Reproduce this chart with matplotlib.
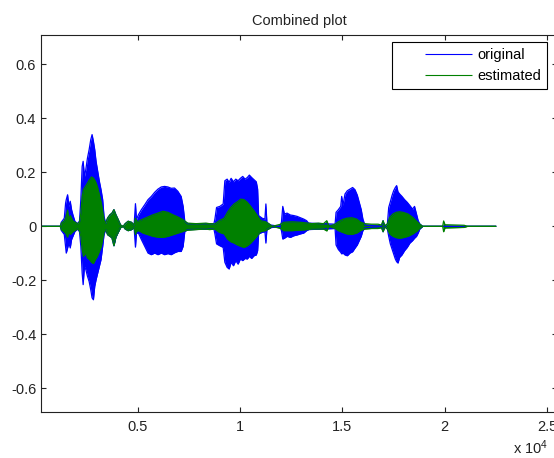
import matplotlib
matplotlib.use('Agg')
import matplotlib.pyplot as plt
from matplotlib.lines import Line2D

plt.rcParams['font.family'] = ['Liberation Sans', 'DejaVu Sans']
plt.rcParams['mathtext.default'] = 'regular'

# envelope of the original signal (sample index, upper, lower)
orig_x = [1, 1214, 1262, 1408, 1473, 1505, 1570, 1634, 1699, 1764, 1829, 1926, 2055, 2152,
          2217, 2282, 2330, 2395, 2460, 2541, 2622, 2702, 2767, 2832, 2897, 2961, 3042, 3123,
          3204, 3285, 3350, 3430, 3527, 3641, 3738, 3835, 3932, 4045, 4159, 4288, 4385, 4531,
          4693, 4822, 4887, 4935, 5032, 5178, 5340, 5502, 5663, 5825, 5987, 6149, 6311, 6472,
          6634, 6796, 6958, 7120, 7217, 7298, 7443, 8722, 8770, 8851, 9013, 9175, 9256, 9369,
          9466, 9563, 9677, 9790, 9903, 10016, 10130, 10243, 10356, 10453, 10566, 10680, 10793,
          10858, 10906, 11084, 11214, 11262, 11311, 11489, 11942, 12023, 12087, 12168, 12298,
          12460, 12621, 12783, 12945, 13107, 13252, 13349, 14644, 14692, 14806, 14919, 14967,
          15032, 15129, 15242, 15372, 15501, 15615, 15728, 15825, 15922, 16003, 16100, 16909,
          16990, 17070, 17200, 17265, 17345, 17426, 17507, 17588, 17653, 17718, 17799, 17912,
          18041, 18171, 18300, 18430, 18527, 18624, 18705, 18785, 18931, 22491]
orig_hi = [0, 0, 0.015, 0.03, 0.086, 0.099, 0.117, 0.074, 0.093, 0.062, 0.043, 0.019, 0.01, 0.02,
           0.099, 0.222, 0.241, 0.185, 0.21, 0.253, 0.284, 0.321, 0.34, 0.315, 0.284, 0.241, 0.204, 0.167,
           0.136, 0.099, 0.037, 0.012, 0.031, 0.043, 0.049, 0.062, 0.043, 0.025, 0.005, 0, 0.01, 0.019,
           0.015, 0.005, 0.084, 0.025, 0.043, 0.062, 0.08, 0.099, 0.111, 0.126, 0.138, 0.146, 0.148, 0.146,
           0.141, 0.142, 0.13, 0.111, 0.074, 0.019, 0.01, 0.01, 0.027, 0.07, 0.074, 0.083, 0.169, 0.175,
           0.163, 0.178, 0.165, 0.175, 0.169, 0.178, 0.185, 0.175, 0.181, 0.19, 0.181, 0.173, 0.165,
           0.138, 0.04, 0.03, 0.027, 0.083, 0.015, 0.005, 0, 0.015, 0.074, 0.046, 0.049,
           0.042, 0.04, 0.037, 0.032, 0.027, 0.021, 0.012, 0.008, 0.052, 0.062, 0.074, 0.111,
           0.079, 0.12, 0.132, 0.138, 0.144, 0.136, 0.116, 0.089, 0.062, 0.027, 0.005, 0,
           0.021, 0, 0.009, 0.07, 0.091, 0.114, 0.132, 0.144, 0.151, 0.128, 0.12, 0.111,
           0.099, 0.089, 0.077, 0.064, 0.074, 0.046, 0.021, 0.009, 0, 0]
orig_lo = [0, 0, -0.015, -0.03, -0.074, -0.099, -0.08, -0.062, -0.08, -0.049, -0.037, -0.019, -0.01, -0.02,
           -0.074, -0.173, -0.216, -0.148, -0.16, -0.185, -0.204, -0.235, -0.265, -0.272, -0.222, -0.198, -0.173, -0.148,
           -0.123, -0.074, -0.031, -0.012, -0.031, -0.037, -0.043, -0.072, -0.04, -0.022, -0.005, 0, -0.01, -0.016,
           -0.012, -0.005, -0.077, -0.025, -0.025, -0.049, -0.074, -0.099, -0.105, -0.099, -0.105, -0.099, -0.105, -0.101,
           -0.105, -0.098, -0.093, -0.093, -0.074, -0.019, -0.012, -0.01, -0.028, -0.065, -0.072, -0.078, -0.133, -0.152,
           -0.158, -0.133, -0.146, -0.127, -0.14, -0.121, -0.127, -0.119, -0.121, -0.111, -0.119, -0.109, -0.106,
           -0.09, -0.028, -0.022, -0.02, -0.062, -0.012, -0.005, 0, -0.016, -0.047, -0.044, -0.037,
           -0.041, -0.035, -0.032, -0.028, -0.025, -0.016, -0.012, -0.008, -0.069, -0.086, -0.096, -0.102,
           -0.099, -0.106, -0.109, -0.099, -0.094, -0.081, -0.069, -0.053, -0.037, -0.016, -0.006, 0,
           -0.02, 0, -0.01, -0.037, -0.065, -0.084, -0.102, -0.121, -0.131, -0.136, -0.115, -0.106,
           -0.09, -0.078, -0.062, -0.053, -0.044, -0.037, -0.025, -0.01, 0, 0]

# envelope of the estimated signal
est_x = [1, 1214, 1262, 1400, 1473, 1570, 1634, 1699, 1829, 2055, 2152,
         2217, 2282, 2346, 2444, 2541, 2638, 2735, 2832, 2929, 3026, 3123, 3220, 3301, 3366, 3430,
         3527, 3641, 3738, 3835, 3932, 4045, 4159, 4288, 4385, 4531, 4693, 4822, 4887, 4935,
         5032, 5259, 5502, 5744, 5987, 6230, 6472, 6715, 6958, 7200, 7443, 7848, 8333, 8500,
         8770, 8981, 9224, 9385, 9547, 9709, 9871, 10032, 10194, 10356, 10518, 10680, 10842, 11003,
         11246, 11440, 11570, 11990, 12136, 12540, 12945, 13317, 13511, 13834, 14077, 14239, 14352,
         14644, 14806, 15000, 15210, 15453, 15696, 15906, 16100, 16423, 16747, 16909, 16990, 17070,
         17200, 17313, 17475, 17637, 17799, 17961, 18203, 18446, 18656, 18785, 18931, 19902, 19950,
         20016, 20954, 21116, 22491]
est_hi = [0, 0, 0.012, 0.02, 0.03, 0.06, 0.025, 0.04, 0.02, 0.01, 0.015,
          0.049, 0.111, 0.136, 0.148, 0.16, 0.173, 0.183, 0.179, 0.167, 0.148, 0.117, 0.086, 0.049, 0.019, 0.012,
          0.031, 0.043, 0.049, 0.062, 0.043, 0.025, 0.005, 0, 0.01, 0.019, 0.015, 0.005, 0.03, 0.02,
          0.019, 0.027, 0.035, 0.043, 0.049, 0.056, 0.052, 0.043, 0.035, 0.025, 0.012, 0.01, 0.012, 0.01,
          0.009, 0.021, 0.03, 0.052, 0.07, 0.083, 0.091, 0.101, 0.099, 0.089, 0.074, 0.058, 0.04, 0.021,
          0.017, 0.008, 0, 0.008, 0.015, 0.017, 0.015, 0.012, 0.01, 0.012, 0.01, 0.021, 0,
          0.008, 0.017, 0.025, 0.03, 0.032, 0.027, 0.015, 0.01, 0.008, 0.008, 0.005, 0.021, 0.003,
          0.009, 0.033, 0.046, 0.052, 0.054, 0.052, 0.046, 0.033, 0.017, 0.008, 0, 0, 0.02,
          0.006, 0.004, 0, 0]
est_lo = [0, 0, -0.012, -0.02, -0.025, -0.04, -0.02, -0.03, -0.02, -0.01, -0.015,
          -0.037, -0.086, -0.111, -0.099, -0.117, -0.123, -0.133, -0.138, -0.123, -0.111, -0.093, -0.074, -0.043, -0.019, -0.012,
          -0.031, -0.037, -0.043, -0.072, -0.04, -0.022, -0.005, 0, -0.01, -0.016, -0.012, -0.005, -0.03, -0.02,
          -0.015, -0.025, -0.031, -0.037, -0.04, -0.041, -0.037, -0.031, -0.025, -0.019, -0.014, -0.012, -0.01, -0.012,
          -0.01, -0.022, -0.028, -0.047, -0.057, -0.062, -0.069, -0.074, -0.078, -0.072, -0.062, -0.049, -0.035, -0.02,
          -0.016, -0.008, 0, -0.008, -0.016, -0.016, -0.014, -0.012, -0.01, -0.01, -0.01, -0.017, 0,
          -0.008, -0.016, -0.022, -0.028, -0.03, -0.025, -0.015, -0.01, -0.008, -0.008, -0.005, -0.02, -0.003,
          -0.01, -0.028, -0.037, -0.042, -0.044, -0.042, -0.037, -0.028, -0.017, -0.008, 0, 0, -0.02,
          -0.006, -0.004, 0, 0]

series_names = ['original', 'estimated']
series_colors = ['#0000ff', '#008000']

xticks = [5000, 10000, 15000, 20000, 25000]
xtick_labels = ['0.5', '1', '1.5', '2', '2.5']
yticks = [-0.6, -0.4, -0.2, 0, 0.2, 0.4, 0.6]
ytick_labels = ['-0.6', '-0.4', '-0.2', '0', '0.2', '0.4', '0.6']

fig = plt.figure(figsize=(5.54, 4.58), dpi=100)
ax = fig.add_axes([0.074, 0.101, 0.9314, 0.8225])

envelopes = [(orig_x, orig_hi, orig_lo), (est_x, est_hi, est_lo)]
for (x, hi, lo), color in zip(envelopes, series_colors):
    ax.fill_between(x, lo, hi, color=color, lw=0)
    ax.plot(x, hi, color=color, lw=0.9)
    ax.plot(x, lo, color=color, lw=0.9)

ax.set_xlim(270, 25490)
ax.set_ylim(-0.687, 0.709)
ax.set_xticks(xticks)
ax.set_xticklabels(xtick_labels)
ax.set_yticks(yticks)
ax.set_yticklabels(ytick_labels)
ax.tick_params(direction='in', top=True, right=True, length=3.6, width=0.8,
               labelsize=10.5, colors='#222222')
ax.tick_params(axis='x', pad=6)
ax.tick_params(axis='y', pad=3.5)
for sp in ax.spines.values():
    sp.set_linewidth(0.8)
    sp.set_color('#222222')

ax.set_title('Combined plot', fontsize=10.5, pad=7, color='#222222')
fig.text(548 / 554, 1 - 454 / 458, 'x 10$^4$', ha='right', va='baseline',
         fontsize=10.5, color='#222222')

# legend lines start some way in from the box edge, like the original
handles = [Line2D([], [], color=c, lw=0.8, linestyle=(42.3, (42.3, 24.3)))
           for c in series_colors]
leg = ax.legend(handles, series_names, loc='upper right', bbox_to_anchor=(0.9806, 0.9814),
                borderaxespad=0, fancybox=False, edgecolor='black', framealpha=1,
                handlelength=5.07, handletextpad=0.35, fontsize=10.5, borderpad=0.4)
leg.get_frame().set_linewidth(0.8)

fig.savefig('out.png', dpi=100)
